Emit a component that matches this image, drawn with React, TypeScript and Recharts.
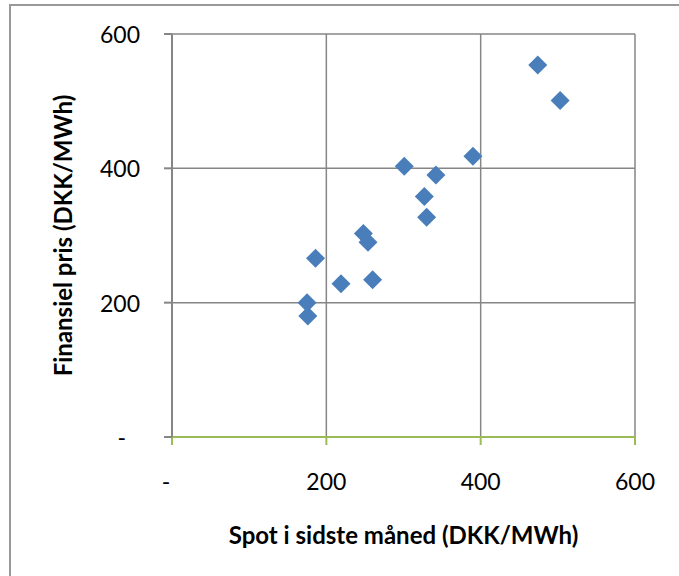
import React from 'react'
import { ScatterChart, Scatter, XAxis, YAxis, CartesianGrid } from 'recharts'

// spot price last month vs financial price, DKK/MWh
const spotPrices = [474, 503, 390, 301, 342, 327, 330, 248, 254, 186, 219, 260, 175, 176]
const financialPrices = [554, 501, 418, 403, 390, 358, 327, 303, 290, 266, 228, 234, 200, 180]
const axisTicks = [0, 200, 400, 600]

const points = spotPrices.map((spot, i) => ({ spot, fin: financialPrices[i] }))

const FONT = 'Lato, "DejaVu Sans", sans-serif'
const GRID = '#868686'
const AXIS_GREEN = '#9BBB59'
const MARKER = '#4A7EBB'

function fmt(v: number) {
  return v === 0 ? '-' : String(v)
}

function Diamond(props: any) {
  const { cx, cy } = props
  const r = 9.5
  return (
    <polygon
      points={`${cx},${cy - r} ${cx + r},${cy} ${cx},${cy + r} ${cx - r},${cy}`}
      fill={MARKER}
    />
  )
}

function XTick(props: any) {
  const { x, y, payload } = props
  const v = payload.value
  return (
    <text
      x={v === 0 ? x - 6 : x}
      y={y + 34}
      textAnchor="middle"
      dominantBaseline="central"
      fontFamily={FONT}
      fontSize={23}
      fill="#000"
    >
      {fmt(v)}
    </text>
  )
}

function YTick(props: any) {
  const { x, y, payload } = props
  const v = payload.value
  return (
    <text
      x={v === 0 ? x - 36 : x - 22}
      y={y}
      textAnchor="end"
      dominantBaseline="central"
      fontFamily={FONT}
      fontSize={23}
      fill="#000"
    >
      {fmt(v)}
    </text>
  )
}

export default function App() {
  return (
    <div
      style={{
        position: 'absolute',
        left: 0,
        top: 0,
        width: 679,
        height: 576,
        background: '#fff',
        overflow: 'hidden',
      }}
    >
      <div
        style={{
          position: 'absolute',
          left: 9,
          top: 4,
          width: 700,
          height: 620,
          border: '2px solid #999',
        }}
      />
      <div style={{ position: 'absolute', left: 0, top: 0 }}>
        <ScatterChart width={679} height={576} margin={{ top: 34, right: 44, left: 0, bottom: 0 }}>
          <CartesianGrid stroke={GRID} strokeWidth={1.5} />
          <XAxis
            type="number"
            dataKey="spot"
            domain={[0, 600]}
            ticks={axisTicks}
            height={139}
            stroke={AXIS_GREEN}
            strokeWidth={2}
            tickSize={8}
            tick={<XTick />}
            tickLine={{ stroke: AXIS_GREEN, strokeWidth: 2 }}
            label={{
              content: (p: any) => {
                const vb = p.viewBox
                return (
                  <text
                    x={vb.x + vb.width / 2}
                    y={vb.y + 97}
                    textAnchor="middle"
                    dominantBaseline="central"
                    fontFamily={FONT}
                    fontSize={24}
                    fontWeight="bold"
                    fill="#000"
                  >
                    Spot i sidste måned (DKK/MWh)
                  </text>
                )
              },
            }}
          />
          <YAxis
            type="number"
            dataKey="fin"
            domain={[0, 600]}
            ticks={axisTicks}
            width={172}
            stroke={GRID}
            strokeWidth={2}
            tickSize={8}
            tick={<YTick />}
            tickLine={{ stroke: GRID, strokeWidth: 2 }}
            label={{
              content: (p: any) => {
                const vb = p.viewBox
                const cx = vb.x + 62
                const cy = vb.y + vb.height / 2
                return (
                  <text
                    x={cx}
                    y={cy}
                    transform={`rotate(-90 ${cx} ${cy})`}
                    textAnchor="middle"
                    dominantBaseline="central"
                    fontFamily={FONT}
                    fontSize={24}
                    fontWeight="bold"
                    fill="#000"
                  >
                    Finansiel pris (DKK/MWh)
                  </text>
                )
              },
            }}
          />
          <Scatter data={points} shape={<Diamond />} isAnimationActive={false} />
        </ScatterChart>
      </div>
    </div>
  )
}
